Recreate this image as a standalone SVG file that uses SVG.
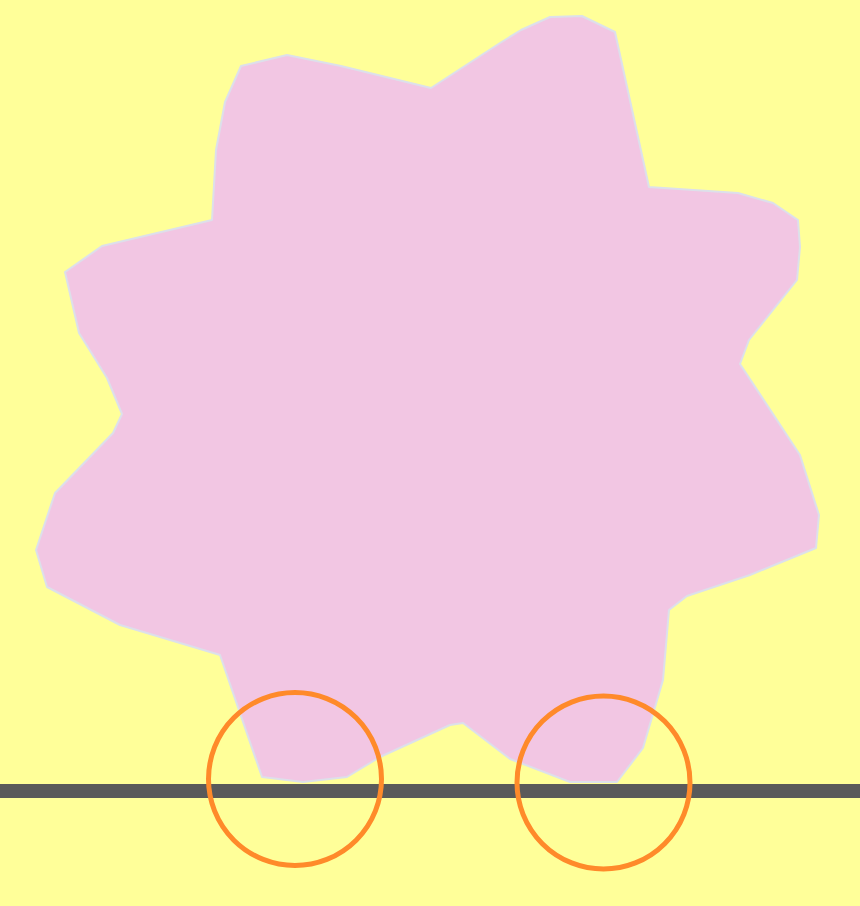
<svg xmlns="http://www.w3.org/2000/svg" width="860" height="906" viewBox="0 0 860 906">
<style>
.ring{fill:none;stroke:#ff8a2a;stroke-width:5}
</style>
<rect x="0" y="0" width="860" height="906" fill="#ffff99"/>
<g id="blob">
<polygon fill="#f2c6e3" stroke="#dde0ea" stroke-width="2" stroke-linejoin="round" points="241,66 287,55 341,66 431,88 500,43 521,30 550,17 582,16 615,32 649,187 738,193 773,203 798,220 800,247 797,280 749,340 740,364 800,455 819,515 816,548 750,575 687,596 669,610 663,680 643,748 617,782 570,782 510,759 463,723 450,725 380,757 347,777 303,782 262,777 220,655 120,625 47,587 36,550 55,493 113,433 122,414 107,378 79,333 65,272 102,246 212,220 216,150 225,102"/>
</g>
<g id="ground">
<rect x="0" y="784" width="860" height="14" fill="#5a5a5a"/>
</g>
<g id="wheel-left"><circle class="ring" cx="295" cy="779" r="86.5"/></g>
<g id="wheel-right"><circle class="ring" cx="603.5" cy="782.5" r="86.5"/></g>
</svg>
